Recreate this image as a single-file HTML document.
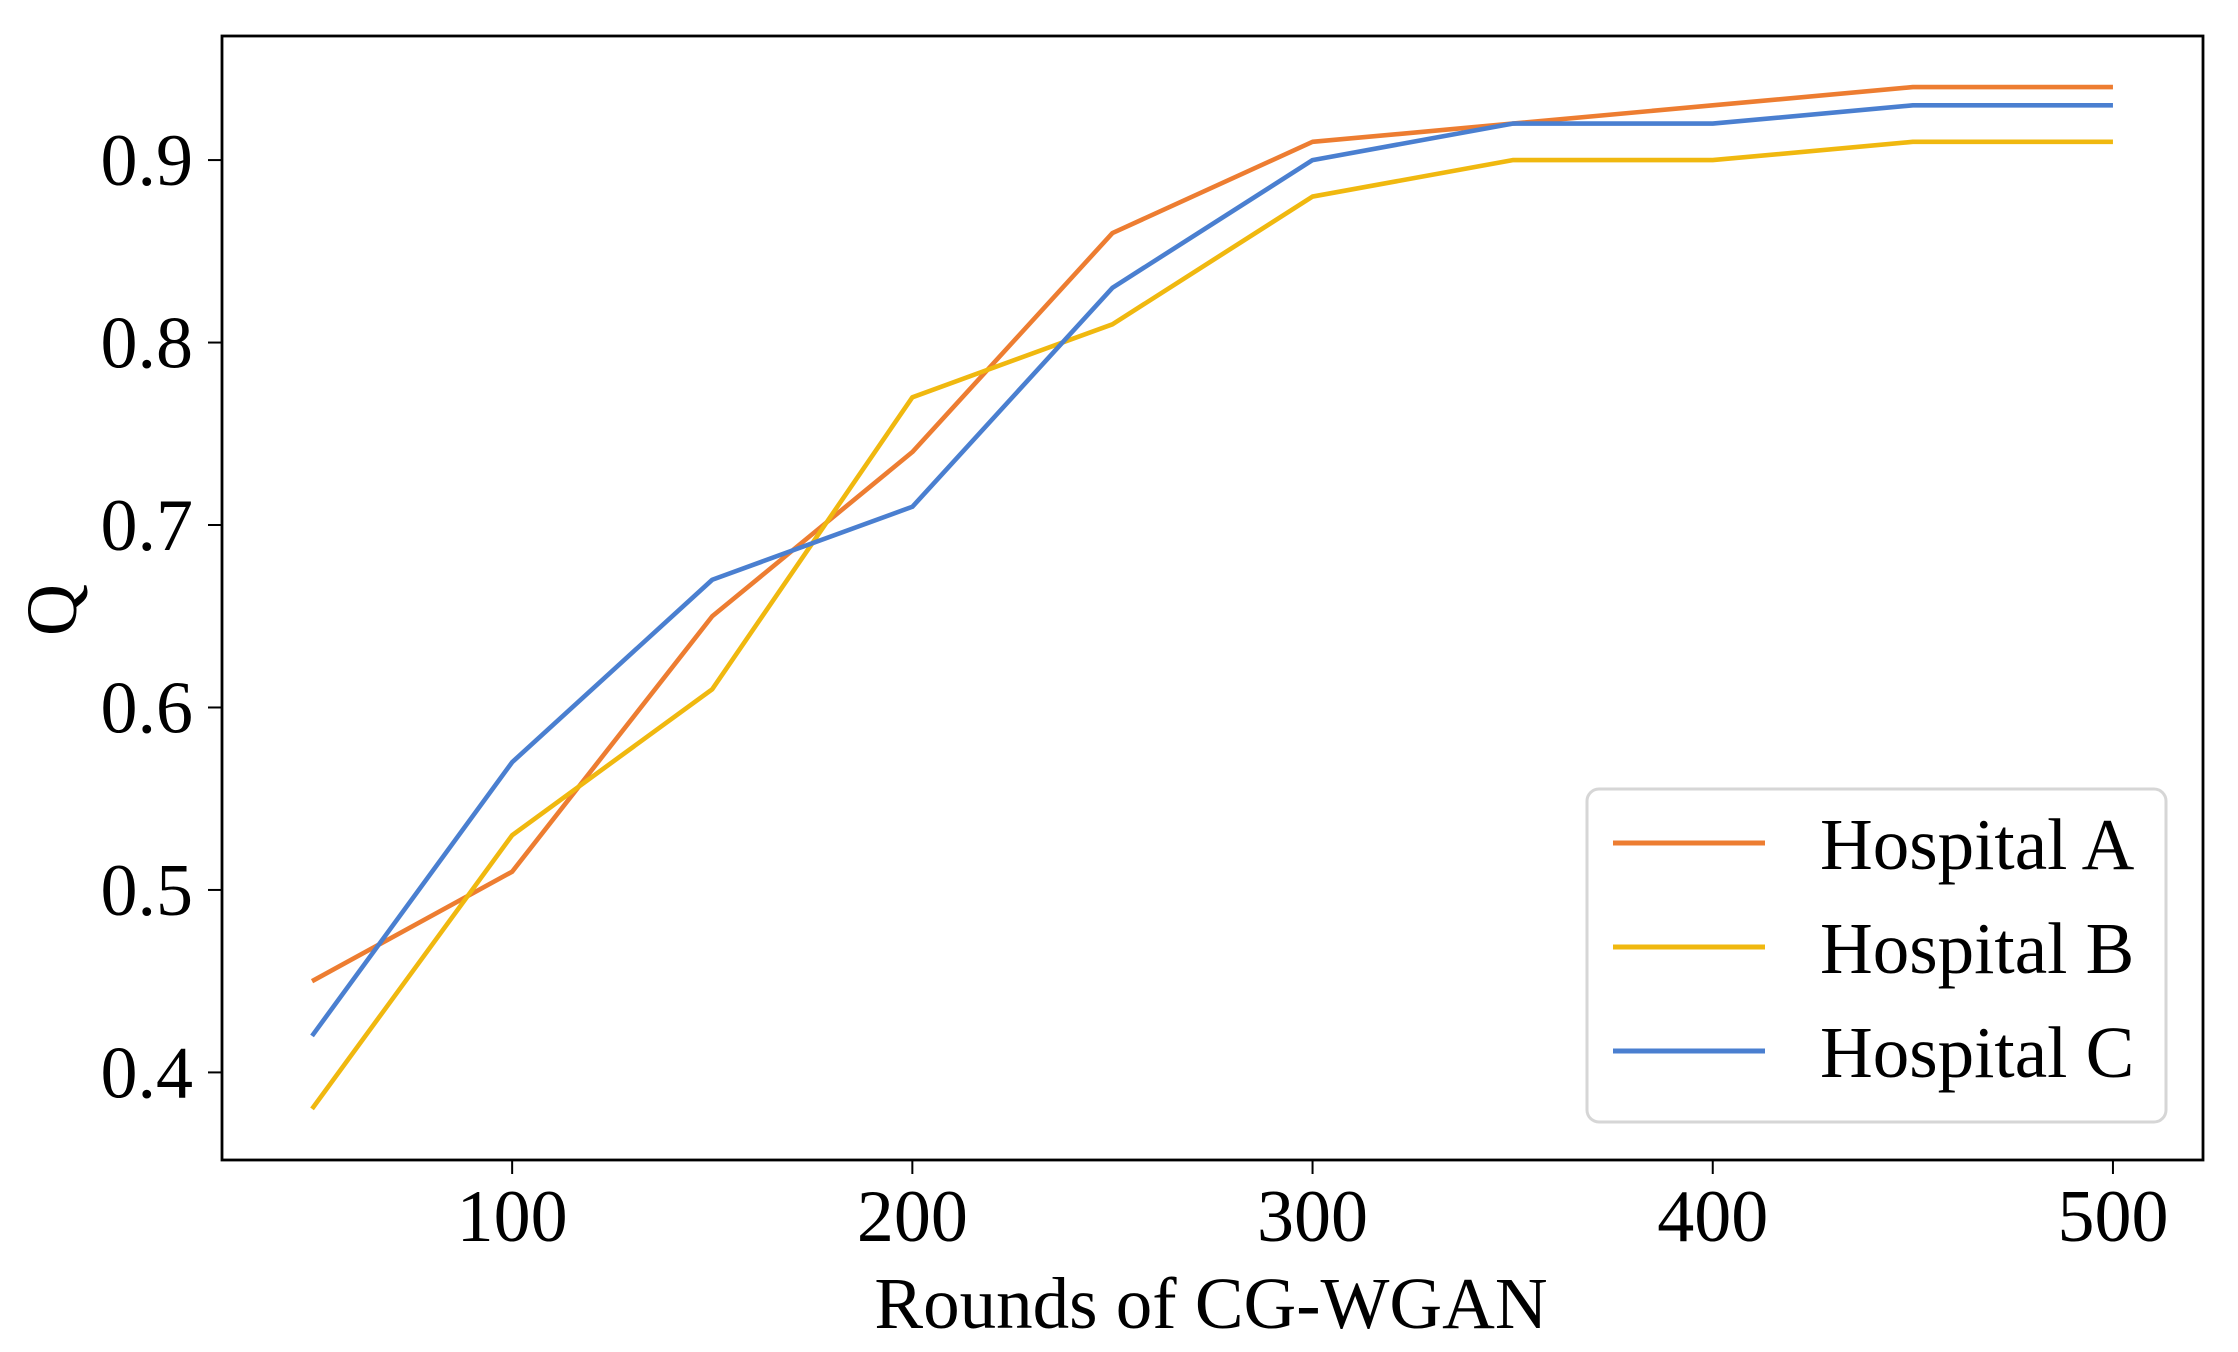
<!DOCTYPE html>
<html><head><meta charset="utf-8"><style>
html,body{margin:0;padding:0;background:#fff;}
svg{display:block;}
text{font-family:"Liberation Serif",serif;fill:#000;}
</style></head><body>
<svg id="chart" width="2238" height="1352" viewBox="0 0 2238 1352">
<g id="plot"></g>
</svg>
<script>
const rounds = [50,100,150,200,250,300,350,400,450,500];
const hospitalA = [0.45,0.51,0.65,0.74,0.86,0.91,0.92,0.93,0.94,0.94];
const hospitalB = [0.38,0.53,0.61,0.77,0.81,0.88,0.90,0.90,0.91,0.91];
const hospitalC = [0.42,0.57,0.67,0.71,0.83,0.90,0.92,0.92,0.93,0.93];
const seriesNames = ["Hospital A","Hospital B","Hospital C"];
const xTicks = [100,200,300,400,500];
const yTicks = [0.4,0.5,0.6,0.7,0.8,0.9];
const yTickLabels = ["0.4","0.5","0.6","0.7","0.8","0.9"];

const NS="http://www.w3.org/2000/svg";
const L=222,R=2203,T=36,B=1160;
const xMin=27.5,xMax=522.5,yMin=0.352,yMax=0.968;
const sx=v=>L+(v-xMin)/(xMax-xMin)*(R-L);
const sy=v=>B-(v-yMin)/(yMax-yMin)*(B-T);
const g=document.getElementById('plot');
function mk(tag,attrs,parent){const e=document.createElementNS(NS,tag);for(const k in attrs)e.setAttribute(k,attrs[k]);(parent||g).appendChild(e);return e;}

const colors=["#ED7D31","#F0B80F","#4A7FD0"];
const data=[hospitalA,hospitalB,hospitalC];
const clip=mk('clipPath',{id:'cp'});
mk('rect',{x:L,y:T,width:R-L,height:B-T},clip);
data.forEach((s,i)=>{
  const p=mk('polyline',{points:s.map((v,j)=>sx(rounds[j])+','+sy(v)).join(' '),fill:'none',stroke:colors[i],'stroke-width':4.6,'stroke-linejoin':'round','clip-path':'url(#cp)'});
  
  
});

const frame=mk('rect',{x:L,y:T,width:R-L,height:B-T,fill:'none',stroke:'#000','stroke-width':2.8});



xTicks.forEach(v=>{
  const t=mk('line',{x1:sx(v),x2:sx(v),y1:B,y2:B+14,stroke:'#000','stroke-width':2});
  
  
  const l=mk('text',{x:sx(v),y:1241,'font-size':74,'text-anchor':'middle'});
  l.textContent=v;
  
  
});
yTicks.forEach((v,i)=>{
  const t=mk('line',{x1:L-14,x2:L,y1:sy(v),y2:sy(v),stroke:'#000','stroke-width':2});
  
  
  const l=mk('text',{x:193,y:sy(v)+25,'font-size':74,'text-anchor':'end'});
  l.textContent=yTickLabels[i];
  
  
});

const xt=mk('text',{x:1211,y:1328,'font-size':73,'text-anchor':'middle'});
xt.textContent='Rounds of CG-WGAN';


const yt=mk('text',{x:0,y:0,'font-size':72,'text-anchor':'middle',transform:'translate(76,610) rotate(-90)'});
yt.textContent='Q';



const lg=mk('g',{});


mk('rect',{x:1587,y:789,width:579,height:333,rx:12,fill:'#fff',stroke:'#d6d6d6','stroke-width':3},lg);
seriesNames.forEach((n,i)=>{
  const y=843+i*104;
  const ln=mk('line',{x1:1613,x2:1765,y1:y,y2:y,stroke:colors[i],'stroke-width':5},lg);
  
  
  const tx=mk('text',{x:1820,y:y+26,'font-size':73},lg);
  tx.textContent=n;
  
  
});
</script>
</body></html>
